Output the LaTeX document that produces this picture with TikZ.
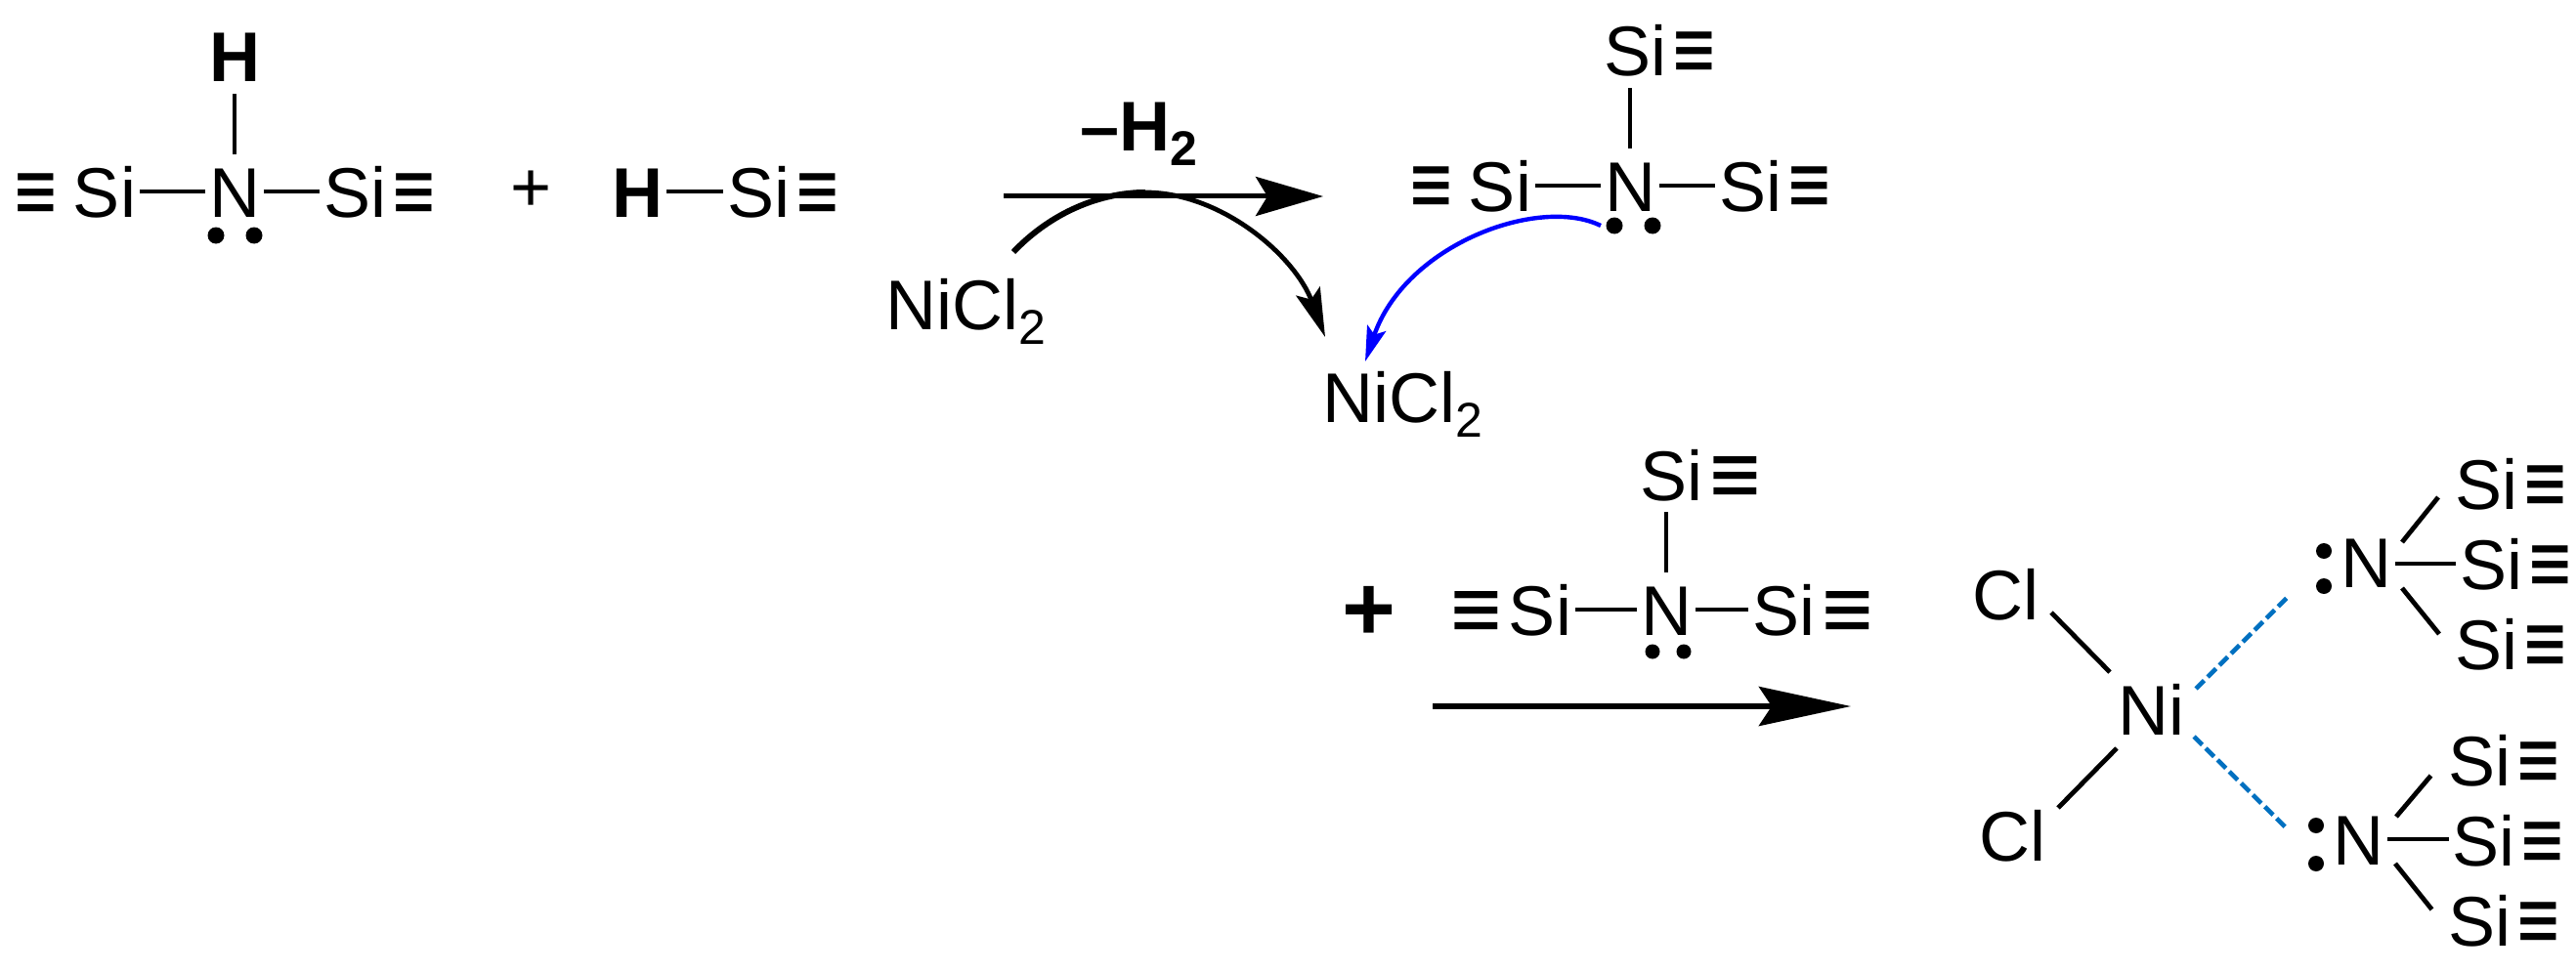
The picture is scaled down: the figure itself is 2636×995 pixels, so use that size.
\documentclass[tikz,border=0pt]{standalone}
\usepackage{fontspec}
\setmainfont{Liberation Sans}
\newfontfamily\barfont{DejaVu Sans}
\usepackage{tikz}
\usetikzlibrary{positioning}
\usetikzlibrary{arrows.meta}
\newcommand{\subtwo}{\raisebox{-7.5pt}{\fontsize{25}{25}\selectfont 2}}
\newcommand{\barwide}{\scalebox{1}[1.25]{\barfont\fontsize{35}{35}\selectfont ≡}}
\newcommand{\bartall}{\scalebox{1}[1.5]{\barfont\fontsize{29}{29}\selectfont ≡}}
\definecolor{DashBlue}{RGB}{0,112,192}

\begin{document}
\begin{tikzpicture}[x=0.5pt,y=-0.5pt]
	\tikzstyle{AtomStyle} = [font=\fontsize{36}{40}\selectfont, text height=26pt, text depth=0pt, inner xsep=2pt, inner ysep=6pt, outer sep=0pt]
	\tikzstyle{BarStyle}  = [AtomStyle, inner xsep=0pt, yshift=-1pt]
	\tikzstyle{WideStyle} = [AtomStyle, inner xsep=0pt, yshift=-1pt]
	\tikzstyle{TextStyle} = [font=\fontsize{36}{40}\selectfont, inner sep=0pt, anchor=base west]
	\tikzstyle{DotStyle}  = [circle, fill=black, inner sep=0pt, minimum size=8.5pt]
	\tikzstyle{BondStyle} = [line width=2.4pt]
	\tikzstyle{DashStyle} = [line width=2.3pt, DashBlue, dash pattern=on 6pt off 2.5pt]
	\useasboundingbox (0,0) rectangle (2636,995);

	\node[AtomStyle] (N1) at (240,196) {N};
	\node[AtomStyle, font=\fontsize{36}{40}\selectfont\bfseries, above=31pt of N1] (H1) {H};
	\node[AtomStyle, left=33.5pt of N1] (Si1L) {Si};
	\node[AtomStyle, right=28.5pt of N1] (Si1R) {Si};
	\node[BarStyle, left=5pt of Si1L] (Bar1L) {\bartall};
	\node[BarStyle, right=0pt of Si1R] (Bar1R) {\bartall};
	\node[DotStyle] (Dot1A) at ([shift={(-19,45)}]N1.center) {};
	\node[DotStyle] (Dot1B) at ([shift={(20,45)}]N1.center) {};
	\draw[BondStyle] (N1.north) -- (H1.south);
	\draw[BondStyle] (N1.west) -- (Si1L.east);
	\draw[BondStyle] (N1.east) -- (Si1R.west);

	\node[inner sep=0pt, font=\fontsize{36}{40}\selectfont] (Plus1) at (544,196) {+};

	\node[AtomStyle, font=\fontsize{36}{40}\selectfont\bfseries] (H2) at (652,196) {H};
	\node[AtomStyle, right=29pt of H2] (Si2) {Si};
	\node[BarStyle, right=0pt of Si2] (Bar2) {\bartall};
	\draw[BondStyle] (H2.east) -- (Si2.west);

	\node[TextStyle] (Elim) at (1105,155) {\bfseries –H\subtwo};
	\coordinate (Arrow1S) at (1027,201);
	\coordinate (Arrow1E) at (1354,201);
	\draw[line width=2.5pt, -{Stealth[length=34.5pt,width=20pt,inset=6pt]}] (Arrow1S) -- (Arrow1E);

	\node[TextStyle] (NiA) at (906,337) {NiCl\subtwo};
	\node[TextStyle] (NiB) at (1353,432) {NiCl\subtwo};
	\coordinate (CurvePeak) at (1172,197);
	\draw[line width=3pt] ([shift={(131,-79)}]NiA.base west) .. controls (1075,218) and (1125,197) .. (CurvePeak);
	\draw[line width=2.4pt, -{Stealth[length=25pt,width=13pt,inset=4.5pt]}] (CurvePeak) .. controls (1250,197) and (1325,262) .. ([shift={(3,-87)}]NiB.base west);

	\node[AtomStyle] (N2) at (1668,190) {N};
	\node[AtomStyle, above=31pt of N2, xshift=2.5pt] (Si3T) {Si};
	\node[AtomStyle, left=33.5pt of N2] (Si3L) {Si};
	\node[AtomStyle, right=28.5pt of N2] (Si3R) {Si};
	\node[BarStyle, right=0pt of Si3T] (Bar3T) {\bartall};
	\node[BarStyle, left=5pt of Si3L] (Bar3L) {\bartall};
	\node[BarStyle, right=0pt of Si3R] (Bar3R) {\bartall};
	\node[DotStyle] (Dot2A) at ([shift={(-16,41)}]N2.center) {};
	\node[DotStyle] (Dot2B) at ([shift={(23,41)}]N2.center) {};
	\draw[BondStyle] (N2.north) -- (N2.north |- Si3T.south);
	\draw[BondStyle] (N2.west) -- (Si3L.east);
	\draw[BondStyle] (N2.east) -- (Si3R.west);
	\draw[line width=2.2pt, blue, -{Stealth[length=18pt,width=10pt,inset=3.5pt]}] ([shift={(-14,0)}]Dot2A.center) .. controls (1575,200) and (1438,250) .. ([shift={(44,-62)}]NiB.base west);

	\node[inner sep=0pt, font=\fontsize{47}{47}\selectfont\bfseries] (Plus2) at (1401,628) {+};
	\node[AtomStyle] (N3) at (1705,624) {N};
	\node[AtomStyle, above=31pt of N3, xshift=2.5pt] (Si4T) {Si};
	\node[AtomStyle, left=31.5pt of N3] (Si4L) {Si};
	\node[AtomStyle, right=27pt of N3] (Si4R) {Si};
	\node[WideStyle, right=0pt of Si4T] (Bar4T) {\barwide};
	\node[WideStyle, left=0pt of Si4L] (Bar4L) {\barwide};
	\node[WideStyle, right=0pt of Si4R] (Bar4R) {\barwide};
	\node[DotStyle, minimum size=7.5pt] (Dot3A) at ([shift={(-14,43)}]N3.center) {};
	\node[DotStyle, minimum size=7.5pt] (Dot3B) at ([shift={(18,43)}]N3.center) {};
	\draw[BondStyle] (N3.north) -- (N3.north |- Si4T.south);
	\draw[BondStyle] (N3.west) -- (Si4L.east);
	\draw[BondStyle] (N3.east) -- (Si4R.west);

	\coordinate (Arrow2S) at (1466,723);
	\coordinate (Arrow2E) at (1894,723);
	\draw[line width=3pt, -{Stealth[length=47pt,width=20pt,inset=6.5pt]}] (Arrow2S) -- (Arrow2E);

	\node[AtomStyle] (Ni) at (2201,726) {Ni};
	\node[AtomStyle] (ClT) at (2052,608) {Cl};
	\node[AtomStyle] (ClB) at (2059,855) {Cl};
	\draw[BondStyle] ([shift={(-42,-38)}]Ni.center) -- ([shift={(47,19)}]ClT.center);
	\draw[BondStyle] ([shift={(-35,40)}]Ni.center) -- ([shift={(47,-28)}]ClB.center);

	\node[AtomStyle] (NU) at (2421,575) {N};
	\node[AtomStyle] (SiB) at (2549,577) {Si};
	\node[AtomStyle, above=3pt of SiB, xshift=-2.5pt] (SiA) {Si};
	\node[AtomStyle, below=3pt of SiB, xshift=-2.5pt] (SiC) {Si};
	\node[BarStyle, right=0pt of SiA] (BarA) {\bartall};
	\node[BarStyle, right=0pt of SiB] (BarB) {\bartall};
	\node[BarStyle, right=0pt of SiC] (BarC) {\bartall};
	\node[DotStyle, minimum size=8pt] (DotUA) at ([shift={(-43,-11)}]NU.center) {};
	\node[DotStyle, minimum size=8pt] (DotUB) at ([shift={(-43,25)}]NU.center) {};
	\draw[BondStyle] ([shift={(37,-20)}]NU.center) -- ([shift={(-49,14)}]SiA.center);
	\draw[BondStyle] ([yshift=-1pt]NU.east) -- ([yshift=-1pt]NU.east -| SiB.west);
	\draw[BondStyle] ([shift={(37,27)}]NU.center) -- ([shift={(-48,-10)}]SiC.center);

	\node[AtomStyle] (NL) at (2413,859) {N};
	\node[AtomStyle] (SiE) at (2541.5,860) {Si};
	\node[AtomStyle, above=3pt of SiE, xshift=-2pt] (SiD) {Si};
	\node[AtomStyle, below=3pt of SiE, xshift=-2pt] (SiF) {Si};
	\node[BarStyle, right=0pt of SiD] (BarD) {\bartall};
	\node[BarStyle, right=0pt of SiE] (BarE) {\bartall};
	\node[BarStyle, right=0pt of SiF] (BarF) {\bartall};
	\node[DotStyle, minimum size=8pt] (DotLA) at ([shift={(-43,-14)}]NL.center) {};
	\node[DotStyle, minimum size=8pt] (DotLB) at ([shift={(-43,25)}]NL.center) {};
	\draw[BondStyle] ([shift={(39,-23)}]NL.center) -- ([shift={(-50,16)}]SiD.center);
	\draw[BondStyle] (NL.east) -- (NL.east -| SiE.west);
	\draw[BondStyle] ([shift={(38,25)}]NL.center) -- ([shift={(-49,-11)}]SiF.center);

	\draw[DashStyle] ([shift={(46,-21)}]Ni.center) -- ([shift={(-79,35)}]NU.center);
	\draw[DashStyle] ([shift={(44,28)}]Ni.center) -- ([shift={(-73,-11)}]NL.center);
\end{tikzpicture}
\end{document}
